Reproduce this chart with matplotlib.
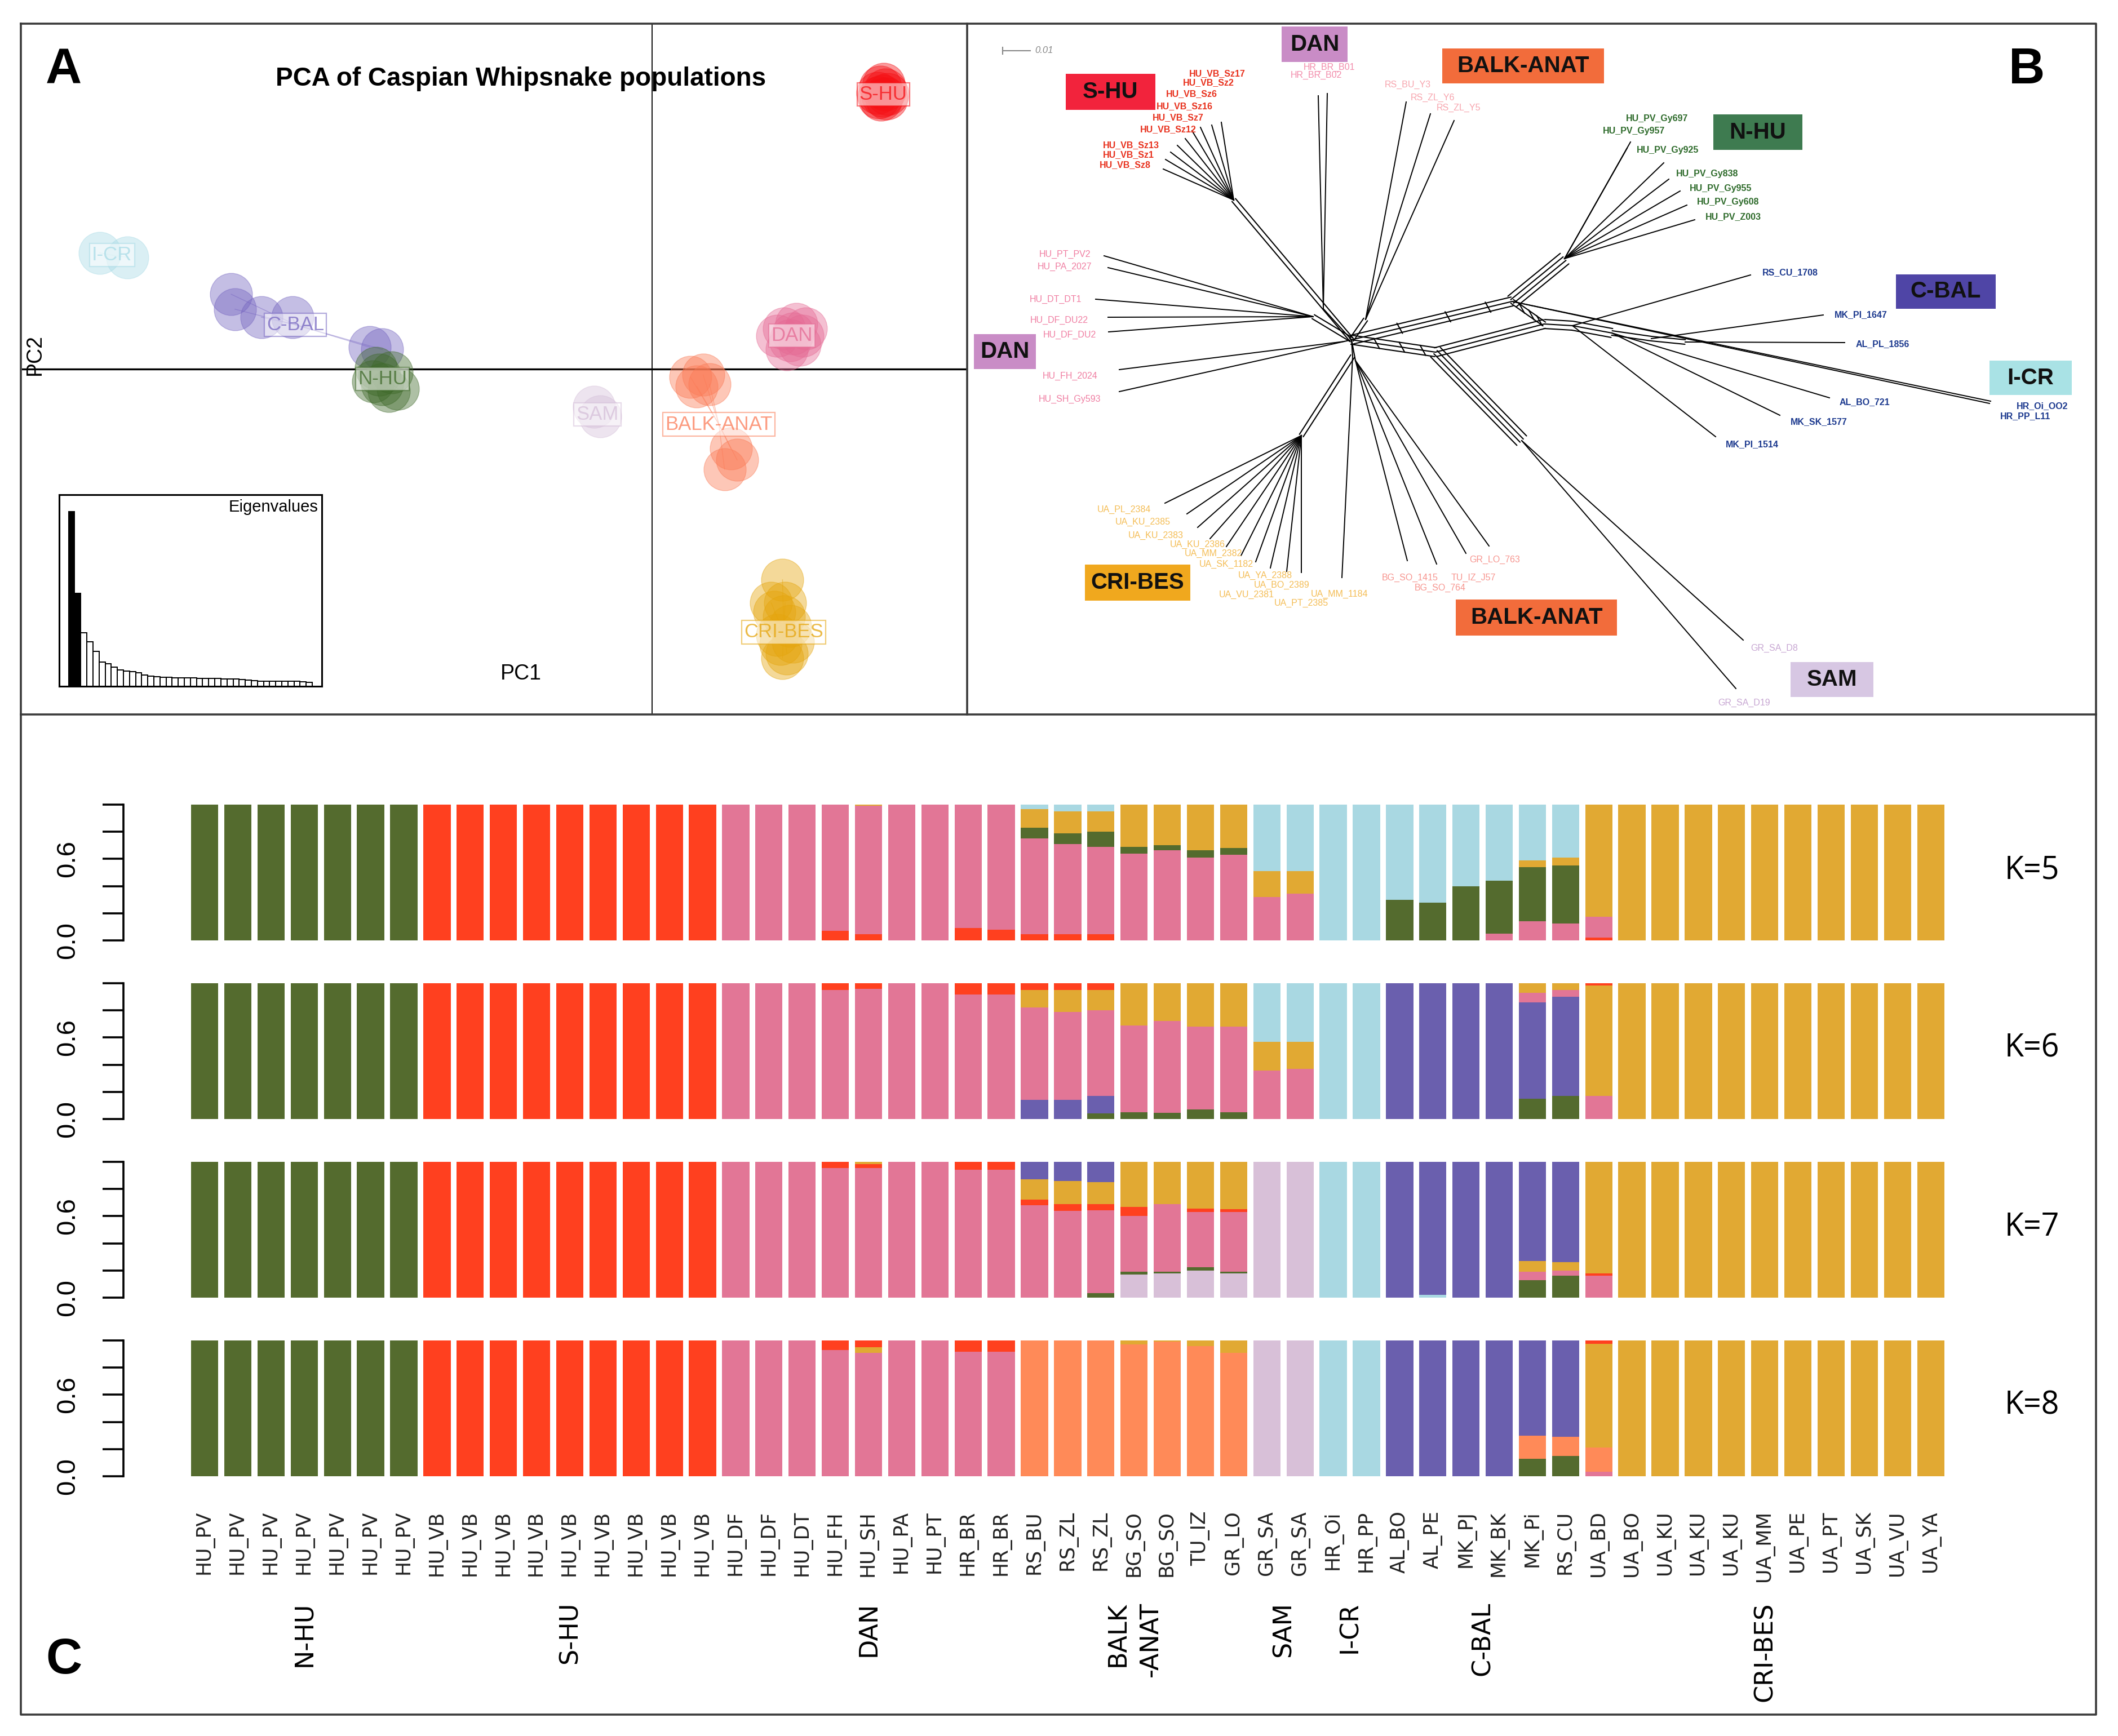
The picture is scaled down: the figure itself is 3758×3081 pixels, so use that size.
import numpy as np
import matplotlib
matplotlib.use("Agg")
import matplotlib.pyplot as plt
from matplotlib.patches import Rectangle
from matplotlib.transforms import blended_transform_factory

plt.rcParams['font.family'] = ['Liberation Sans', 'DejaVu Sans']

W, H = 3758, 3081
fig = plt.figure(figsize=(W / 100, H / 100), dpi=100)
fig.patch.set_facecolor('white')


def px_axes(x0, y0, x1, y1, **kw):
    return fig.add_axes([x0 / W, 1 - y1 / H, (x1 - x0) / W, (y1 - y0) / H], **kw)


def fxy(x, y):
    return x / W, 1 - y / H

# ------------------------------------------------------------------ DATA
# Panel A : PCA scores (PC1, PC2) per population
pca_groups = ['S-HU', 'I-CR', 'C-BAL', 'N-HU', 'SAM', 'DAN', 'BALK-ANAT', 'CRI-BES']
pca_pc1 = {
    'S-HU': [3.58, 3.62, 3.66, 3.70, 3.74, 3.63, 3.68, 3.72, 3.60],
    'I-CR': [-8.77, -8.33],
    'C-BAL': [-6.68, -6.62, -6.20, -5.71, -4.48, -4.28],
    'N-HU': [-4.38, -4.13, -4.28, -4.03, -4.43, -4.18, -4.33],
    'SAM': [-0.92, -0.82],
    'DAN': [2.09, 2.29, 2.19, 2.39, 2.14, 2.24, 2.34, 1.99, 2.44],
    'BALK-ANAT': [0.61, 0.81, 0.91, 0.71, 1.25, 1.15, 1.35],
    'CRI-BES': [2.07, 1.94, 2.09, 2.04, 2.14, 1.99, 2.19, 1.89, 2.11, 2.07, 2.24],
}
pca_pc2 = {
    'S-HU': [4.80, 4.90, 4.75, 4.85, 4.78, 4.68, 4.95, 4.70, 4.72],
    'I-CR': [2.02, 1.94],
    'C-BAL': [1.30, 1.04, 0.90, 0.90, 0.38, 0.34],
    'N-HU': [0.02, -0.06, -0.26, -0.34, -0.22, -0.38, -0.10],
    'SAM': [-0.66, -0.82],
    'DAN': [0.70, 0.78, 0.50, 0.58, 0.34, 0.62, 0.42, 0.58, 0.70],
    'BALK-ANAT': [-0.14, -0.10, -0.26, -0.30, -1.38, -1.74, -1.58],
    'CRI-BES': [-3.66, -4.22, -4.30, -4.78, -4.94, -4.62, -4.46, -4.06, -4.06, -5.02, -4.74],
}
pca_label_pos = {
    'S-HU': (3.67, 4.77), 'I-CR': (-8.57, 1.98), 'C-BAL': (-5.66, 0.77),
    'N-HU': (-4.28, -0.17), 'SAM': (-0.87, -0.79), 'DAN': (2.22, 0.58),
    'BALK-ANAT': (1.06, -0.96), 'CRI-BES': (2.09, -4.57),
}
eigenvalues = [1.0, 0.532, 0.306, 0.254, 0.200, 0.138, 0.128, 0.111, 0.092, 0.086,
               0.084, 0.076, 0.065, 0.059, 0.054, 0.052, 0.051, 0.049, 0.049, 0.048,
               0.048, 0.046, 0.046, 0.045, 0.044, 0.043, 0.042, 0.041, 0.038, 0.035,
               0.032, 0.030, 0.029, 0.029, 0.029, 0.029, 0.029, 0.029, 0.025, 0.024]
n_retained = 2

# Panel C : individuals and admixture proportions
samples = (['HU_PV'] * 7 + ['HU_VB'] * 9 +
           ['HU_DF', 'HU_DF', 'HU_DT', 'HU_FH', 'HU_SH', 'HU_PA', 'HU_PT', 'HR_BR', 'HR_BR',
            'RS_BU', 'RS_ZL', 'RS_ZL', 'BG_SO', 'BG_SO', 'TU_IZ', 'GR_LO',
            'GR_SA', 'GR_SA', 'HR_Oi', 'HR_PP',
            'AL_BO', 'AL_PE', 'MK_PJ', 'MK_BK', 'MK_Pi', 'RS_CU',
            'UA_BD', 'UA_BO', 'UA_KU', 'UA_KU', 'UA_KU', 'UA_MM', 'UA_PE', 'UA_PT',
            'UA_SK', 'UA_VU', 'UA_YA'])
group_names = ['N-HU', 'S-HU', 'DAN', 'BALK\n-ANAT', 'SAM', 'I-CR', 'C-BAL', 'CRI-BES']
group_sizes = [7, 9, 9, 7, 2, 2, 6, 11]

stack_order = {
    5: ['red', 'pink', 'green', 'gold', 'lblue'],
    6: ['green', 'purple', 'pink', 'gold', 'lblue', 'red'],
    7: ['lblue', 'lilac', 'green', 'pink', 'red', 'gold', 'purple'],
    8: ['pink', 'green', 'orange', 'gold', 'red', 'purple', 'lilac', 'lblue'],
}

Q5 = (['green'] * 7 + ['red'] * 9 +
      ['pink', 'pink', 'pink',
       {'red': .07, 'pink': .93},
       {'red': .045, 'pink': .945, 'gold': .01},
       'pink', 'pink',
       {'red': .09, 'pink': .91},
       {'red': .08, 'pink': .92},
       {'red': .045, 'pink': .705, 'green': .08, 'gold': .135, 'lblue': .035},
       {'red': .045, 'pink': .665, 'green': .08, 'gold': .16, 'lblue': .05},
       {'red': .045, 'pink': .645, 'green': .11, 'gold': .15, 'lblue': .05},
       {'pink': .64, 'green': .05, 'gold': .31},
       {'pink': .665, 'green': .035, 'gold': .30},
       {'pink': .61, 'green': .055, 'gold': .335},
       {'pink': .63, 'green': .05, 'gold': .32},
       {'pink': .32, 'gold': .19, 'lblue': .49},
       {'pink': .345, 'gold': .165, 'lblue': .49},
       'lblue', 'lblue',
       {'green': .30, 'lblue': .70},
       {'green': .28, 'lblue': .72},
       {'green': .40, 'lblue': .60},
       {'pink': .05, 'green': .39, 'lblue': .56},
       {'pink': .14, 'green': .40, 'gold': .05, 'lblue': .41},
       {'pink': .125, 'green': .425, 'gold': .06, 'lblue': .39},
       {'red': .02, 'pink': .155, 'gold': .825}] + ['gold'] * 10)

Q6 = (['green'] * 7 + ['red'] * 9 +
      ['pink', 'pink', 'pink',
       {'pink': .95, 'red': .05},
       {'pink': .96, 'red': .04},
       'pink', 'pink',
       {'pink': .915, 'red': .085},
       {'pink': .915, 'red': .085},
       {'purple': .14, 'pink': .68, 'gold': .13, 'red': .05},
       {'purple': .14, 'pink': .65, 'gold': .16, 'red': .05},
       {'green': .04, 'purple': .13, 'pink': .63, 'gold': .15, 'red': .05},
       {'green': .05, 'pink': .64, 'gold': .31},
       {'green': .045, 'pink': .675, 'gold': .28},
       {'green': .07, 'pink': .61, 'gold': .32},
       {'green': .05, 'pink': .63, 'gold': .32},
       {'pink': .355, 'gold': .215, 'lblue': .43},
       {'pink': .37, 'gold': .20, 'lblue': .43},
       'lblue', 'lblue',
       'purple', 'purple', 'purple', 'purple',
       {'green': .15, 'purple': .71, 'pink': .07, 'gold': .07},
       {'green': .17, 'purple': .73, 'pink': .05, 'gold': .05},
       {'pink': .17, 'gold': .815, 'red': .015}] + ['gold'] * 10)

Q7 = (['green'] * 7 + ['red'] * 9 +
      ['pink', 'pink', 'pink',
       {'pink': .955, 'red': .045},
       {'pink': .955, 'red': .03, 'gold': .015},
       'pink', 'pink',
       {'pink': .94, 'red': .06},
       {'pink': .94, 'red': .06},
       {'pink': .68, 'red': .04, 'gold': .15, 'purple': .13},
       {'pink': .64, 'red': .05, 'gold': .17, 'purple': .14},
       {'green': .035, 'pink': .61, 'red': .045, 'gold': .16, 'purple': .15},
       {'lilac': .17, 'green': .02, 'pink': .41, 'red': .07, 'gold': .33},
       {'lilac': .18, 'green': .01, 'pink': .50, 'gold': .31},
       {'lilac': .20, 'green': .025, 'pink': .405, 'red': .025, 'gold': .345},
       {'lilac': .18, 'green': .01, 'pink': .44, 'red': .02, 'gold': .35},
       'lilac', 'lilac',
       'lblue', 'lblue',
       'purple', {'lblue': .02, 'purple': .98}, 'purple', 'purple',
       {'green': .13, 'pink': .06, 'gold': .08, 'purple': .73},
       {'green': .16, 'pink': .04, 'gold': .06, 'purple': .74},
       {'pink': .16, 'red': .02, 'gold': .82}] + ['gold'] * 10)

Q8 = (['green'] * 7 + ['red'] * 9 +
      ['pink', 'pink', 'pink',
       {'pink': .93, 'red': .07},
       {'pink': .91, 'gold': .04, 'red': .05},
       'pink', 'pink',
       {'pink': .915, 'red': .085},
       {'pink': .915, 'red': .085},
       'orange', 'orange', 'orange',
       {'orange': .97, 'gold': .03},
       {'orange': .99, 'gold': .01},
       {'orange': .96, 'gold': .04},
       {'orange': .91, 'gold': .09},
       'lilac', 'lilac',
       'lblue', 'lblue',
       'purple', 'purple', 'purple', 'purple',
       {'green': .13, 'orange': .17, 'purple': .70},
       {'green': .15, 'orange': .14, 'purple': .71},
       {'pink': .035, 'orange': .175, 'gold': .765, 'red': .025}] + ['gold'] * 10)

Q_tables = {5: Q5, 6: Q6, 7: Q7, 8: Q8}

# Panel B : network (internal nodes, band edges, leaves)
tree_nodes = {
    'H0': (2398, 603), 'HS': (2189, 355), 'HD': (2348, 548), 'HR': (2423, 567),
    'HL': (2330, 562), 'HF': (2385, 606), 'HB': (2405, 640), 'HCb': (2400, 632),
    'HC': (2309, 773), 'S': (2547, 625), 'R': (2683, 535), 'T': (2740, 575),
    'HN': (2776, 459), 'C1': (2790, 578), 'C2': (2860, 591), 'C3': (2930, 601),
    'CB': (2990, 607), 'M': (2700, 782),
}
tree_edges = [('H0', 'R', 3), ('H0', 'S', 3), ('S', 'T', 3), ('R', 'T', 2),
              ('R', 'HN', 4), ('T', 'C1', 3), ('C1', 'C2', 3), ('C2', 'C3', 2),
              ('C3', 'CB', 2), ('S', 'M', 4), ('HS', 'H0', 2), ('HC', 'HCb', 2),
              ('HCb', 'H0', 1), ('HR', 'H0', 2), ('HL', 'H0', 2), ('HD', 'H0', 1),
              ('HF', 'H0', 1), ('HB', 'H0', 1)]
leaf_names = ['HU_VB_Sz17', 'HU_VB_Sz2', 'HU_VB_Sz6', 'HU_VB_Sz16', 'HU_VB_Sz7',
              'HU_VB_Sz12', 'HU_VB_Sz13', 'HU_VB_Sz1', 'HU_VB_Sz8',
              'HR_BR_B01', 'HR_BR_B02',
              'RS_BU_Y3', 'RS_ZL_Y6', 'RS_ZL_Y5',
              'HU_PV_Gy697', 'HU_PV_Gy957', 'HU_PV_Gy925', 'HU_PV_Gy838',
              'HU_PV_Gy955', 'HU_PV_Gy608', 'HU_PV_Z003',
              'RS_CU_1708', 'MK_PI_1647', 'AL_PL_1856', 'AL_BO_721', 'MK_SK_1577',
              'MK_PI_1514', 'HR_Oi_OO2', 'HR_PP_L11',
              'HU_PT_PV2', 'HU_PA_2027', 'HU_DT_DT1', 'HU_DF_DU22', 'HU_DF_DU2',
              'HU_FH_2024', 'HU_SH_Gy593',
              'UA_PL_2384', 'UA_KU_2385', 'UA_KU_2383', 'UA_KU_2386', 'UA_MM_2382',
              'UA_SK_1182', 'UA_YA_2388', 'UA_BO_2389', 'UA_VU_2381', 'UA_PT_2385',
              'UA_MM_1184',
              'GR_LO_763', 'BG_SO_1415', 'TU_IZ_J57', 'BG_SO_764',
              'GR_SA_D8', 'GR_SA_D19']
leaf_group = (['shu'] * 9 + ['dantop'] * 2 + ['rstop'] * 3 + ['nhu'] * 7 +
              ['cbal'] * 8 + ['danl'] * 7 + ['cri'] * 11 + ['balk'] * 4 + ['sam'] * 2)
leaf_parent = (['HS'] * 9 + ['HD'] * 2 + ['HR'] * 3 + ['HN'] * 7 +
               ['C1', 'C3', 'CB', 'C2', 'C2', 'C1', 'R', 'R'] +
               ['HL'] * 5 + ['HF'] * 2 + ['HC'] * 10 + ['HCb'] + ['HB'] * 4 + ['M'] * 2)
leaf_tip_x = [2167, 2150, 2130, 2115, 2103, 2089, 2077, 2068, 2064,
              2355, 2339,
              2495, 2538, 2580,
              2893, 2887, 2952, 2961, 2981, 2993, 3007,
              3106, 3235, 3273, 3246, 3158, 3044, 3532, 3530,
              1959, 1966, 1944, 1966, 1967, 1986, 1986,
              2067, 2106, 2125, 2147, 2176, 2202, 2228, 2254, 2283, 2309, 2381,
              2642, 2497, 2601, 2549,
              3093, 3080]
leaf_tip_y = [217, 222, 226, 232, 246, 258, 270, 283, 300,
              166, 170,
              181, 202, 214,
              252, 263, 289, 318, 339, 364, 390,
              488, 559, 608, 706, 737, 775, 712, 716,
              454, 475, 531, 563, 589, 656, 695,
              893, 912, 936, 956, 970, 986, 997, 1008, 1014, 1016, 1025,
              969, 995, 982, 1001,
              1136, 1222]
leaf_lab_x = [2110, 2099, 2069, 2052, 2045, 2023, 1957, 1957, 1951,
              2313, 2290,
              2457, 2503, 2549,
              2885, 2844, 2904, 2974, 2998, 3011, 3026,
              3127, 3255, 3293, 3264, 3177, 3062, 3578, 3549,
              1844, 1841, 1827, 1828, 1851, 1850, 1843,
              1947, 1979, 2002, 2076, 2102, 2128, 2197, 2225, 2163, 2261, 2326,
              2607, 2452, 2575, 2510,
              3106, 3048]
leaf_lab_y = [131, 147, 167, 189, 209, 230, 258, 275, 293,
              119, 133,
              150, 173, 191,
              211, 233, 266, 308, 334, 359, 385,
              484, 559, 611, 714, 749, 789, 721, 739,
              451, 473, 531, 568, 594, 667, 708,
              904, 926, 950, 966, 982, 1001, 1021, 1038, 1055, 1070, 1054,
              993, 1025, 1025, 1043,
              1150, 1247]
box_labels = ['DAN', 'BALK-ANAT', 'S-HU', 'N-HU', 'C-BAL', 'I-CR', 'DAN', 'CRI-BES',
              'BALK-ANAT', 'SAM']

# ------------------------------------------------------------------ STYLES
pca_colors = {'S-HU': '#f50f14', 'I-CR': '#a8dbe6', 'C-BAL': '#7464c0', 'N-HU': '#3f6a2a',
              'SAM': '#d5bfd9', 'DAN': '#e56a94', 'BALK-ANAT': '#fb7a55', 'CRI-BES': '#e5a50c'}
clust_colors = {'green': '#546b2e', 'red': '#ff401f', 'pink': '#e27696', 'lblue': '#a9d8e2',
                'gold': '#e1a933', 'purple': '#6a5fae', 'lilac': '#d8c0d8', 'orange': '#ff8a58'}
leaf_colors = {'shu': '#e8321e', 'dantop': '#f28cab', 'rstop': '#f7a4ad', 'nhu': '#2e6b2b',
               'cbal': '#1d3a8f', 'danl': '#f07ea2', 'cri': '#f4bd55', 'balk': '#f7958f',
               'sam': '#c7a6d2'}
leaf_bold = {'shu', 'nhu', 'cbal'}
box_px = [(2274, 2391, 47, 110), (2559, 2846, 86, 148), (1891, 2050, 131, 195),
          (3040, 3198, 203, 266), (3364, 3541, 487, 548), (3530, 3676, 640, 701),
          (1728, 1838, 593, 655), (1925, 2112, 1002, 1066), (2583, 2869, 1064, 1128),
          (3177, 3324, 1175, 1237)]
box_colors = ['#c98cc6', '#f26c3b', '#f2233c', '#3e7b50', '#4f45a6', '#a9e2e5',
              '#c98cc6', '#f0a81e', '#f26c3b', '#d7c7e3']

# ------------------------------------------------------------------ PANEL A
axA = px_axes(39, 42, 1716, 1268)
axA.set_xlim(-10, 5)
axA.set_ylim(-6, 6)
axA.axis('off')
axA.axhline(0, color='black', lw=2.4, zorder=1)
axA.axvline(0, color='black', lw=1.3, zorder=1)
for g in pca_groups:
    c = pca_colors[g]
    lx, ly = pca_label_pos[g]
    for x, y in zip(pca_pc1[g], pca_pc2[g]):
        axA.plot([lx, x], [ly, y], color=c, lw=1.0, alpha=0.45, zorder=2)
    axA.scatter(pca_pc1[g], pca_pc2[g], s=2900, color=c, alpha=0.42,
                edgecolors=c, linewidths=1.0, zorder=3)
    axA.text(lx, ly, g, ha='center', va='center', fontsize=25, color=c, alpha=0.75,
             zorder=5,
             bbox=dict(boxstyle='square,pad=0.12', fc='white', ec=c, lw=1.6, alpha=0.55))
fig.text(*fxy(924, 140), 'PCA of Caspian Whipsnake populations', fontsize=33,
         fontweight='bold', ha='center', va='center')
fig.text(*fxy(924, 1196), 'PC1', fontsize=27, ha='center', va='center')
fig.text(*fxy(62, 630), 'PC2', fontsize=27, ha='center', va='center', rotation=90)

axE = px_axes(105, 878, 571, 1218)
xe = np.arange(len(eigenvalues))
ecol = ['black' if i < n_retained else 'white' for i in xe]
axE.bar(xe, eigenvalues, width=1.0, color=ecol, edgecolor='black', linewidth=1.4)
axE.set_xlim(-2.04, 41.07)
axE.set_ylim(0, 1.097)
axE.set_xticks([])
axE.set_yticks([])
for s in axE.spines.values():
    s.set_linewidth(2.2)
axE.text(0.985, 0.975, 'Eigenvalues', transform=axE.transAxes, ha='right', va='top',
         fontsize=21)

# ------------------------------------------------------------------ PANEL B
axB = px_axes(1716, 42, 3719, 1268)
axB.set_xlim(1716, 3719)
axB.set_ylim(1268, 42)
axB.axis('off')


def band(p, q, n, gap, **kw):
    p = np.asarray(p, float)
    q = np.asarray(q, float)
    d = q - p
    nrm = np.array([-d[1], d[0]]) / np.hypot(*d)
    for k in range(n):
        off = (k - (n - 1) / 2) * gap
        axB.plot([p[0] + nrm[0] * off, q[0] + nrm[0] * off],
                 [p[1] + nrm[1] * off, q[1] + nrm[1] * off], **kw)


line_kw = dict(color='black', lw=1.5, solid_capstyle='round')
for a, b, n in tree_edges:
    band(tree_nodes[a], tree_nodes[b], n, 8, **line_kw)
# rungs of the splits network
for a, b in [('H0', 'S'), ('R', 'T'), ('H0', 'R')]:
    pa = np.array(tree_nodes[a], float)
    pb = np.array(tree_nodes[b], float)
    for f in (0.3, 0.6, 0.85):
        m = pa + (pb - pa) * f
        axB.plot([m[0] - 5, m[0] + 5], [m[1] - 9, m[1] + 9], **line_kw)

for i, name in enumerate(leaf_names):
    px_, py_ = tree_nodes[leaf_parent[i]]
    axB.plot([px_, leaf_tip_x[i]], [py_, leaf_tip_y[i]], color='black', lw=1.4)
    grp = leaf_group[i]
    axB.text(leaf_lab_x[i], leaf_lab_y[i], name, fontsize=11.5, color=leaf_colors[grp],
             ha='left', va='center',
             fontweight='bold' if grp in leaf_bold else 'normal')

for lab, (x0, x1, y0, y1), c in zip(box_labels, box_px, box_colors):
    axB.add_patch(Rectangle((x0, y0), x1 - x0, y1 - y0, facecolor=c, edgecolor='none',
                            zorder=4))
    axB.text((x0 + x1) / 2, (y0 + y1) / 2, lab, ha='center', va='center', fontsize=29,
             fontweight='bold', color='#111111', zorder=5)

axB.plot([1779, 1828], [90, 90], color='#888888', lw=1.5)
axB.plot([1779, 1779], [84, 96], color='#888888', lw=1.5)
axB.text(1836, 90, '0.01', color='#888888', fontsize=12, style='italic', va='center')

# ------------------------------------------------------------------ PANEL C
row_tops = {5: 1428, 6: 1745, 7: 2062, 8: 2379}
row_h = 241
x_idx = np.arange(len(samples))
axes_c = {}
for K in (5, 6, 7, 8):
    top = row_tops[K]
    ax = px_axes(219, top, 3719, top + row_h)
    ax.set_facecolor('none')
    ax.set_xlim(-2.447, 56.98)
    ax.set_ylim(0, 1)
    bottom = np.zeros(len(samples))
    for cl in stack_order[K]:
        h = np.array([(r.get(cl, 0.0) if isinstance(r, dict) else (1.0 if r == cl else 0.0))
                      for r in Q_tables[K]])
        ax.bar(x_idx, h, bottom=bottom, width=0.82, color=clust_colors[cl],
               edgecolor='none')
        bottom = bottom + h
    for s in ('top', 'right', 'bottom'):
        ax.spines[s].set_visible(False)
    ax.spines['left'].set_bounds(0, 1)
    ax.spines['left'].set_linewidth(2.6)
    ax.set_yticks([0, 0.2, 0.4, 0.6, 0.8, 1.0])
    ax.set_yticklabels(['0.0', '', '', '0.6', '', ''])
    ax.tick_params(axis='y', length=27, width=2.6, pad=28, labelsize=34, labelrotation=90)
    for t in ax.get_yticklabels():
        t.set_va('center')
    ax.set_xticks([])
    fig.text(*fxy(3605, top + row_h / 2 - 4), f'K={K}', fontsize=40,
             family=['Open Sans', 'DejaVu Sans'], ha='center', va='center')
    axes_c[K] = ax

ax8 = axes_c[8]
ax8.set_xticks(x_idx)
ax8.set_xticklabels(samples, rotation=90, fontsize=25, family=['DejaVu Sans'],
                    color='#222222')
ax8.tick_params(axis='x', length=0, pad=44)

trans = blended_transform_factory(ax8.transData, fig.transFigure)
start = 0
for g, n in zip(group_names, group_sizes):
    center = start + (n - 1) / 2
    ax8.text(center, 1 - 2843 / H, g, transform=trans, rotation=90, ha='center', va='top',
             fontsize=32, family=['DejaVu Sans'], multialignment='right', linespacing=1.45)
    start += n

# ------------------------------------------------------------------ FRAMES & LETTERS
axF = fig.add_axes([0, 0, 1, 1], facecolor='none')
axF.set_xlim(0, W)
axF.set_ylim(H, 0)
axF.axis('off')
frame_kw = dict(color='#3a3a3a', lw=2.6)
axF.plot([37, 3719, 3719, 37, 37], [42, 42, 3043, 3043, 42], **frame_kw)
axF.plot([37, 3719], [1268, 1268], **frame_kw)
axF.plot([1716, 1716], [42, 1268], **frame_kw)
for lab, (x, y) in zip(['A', 'B', 'C'], [(113, 126), (3596, 125), (113, 2947)]):
    axF.text(x, y, lab, fontsize=64, fontweight='bold', ha='center', va='center')

fig.savefig('out.png', dpi=100)
